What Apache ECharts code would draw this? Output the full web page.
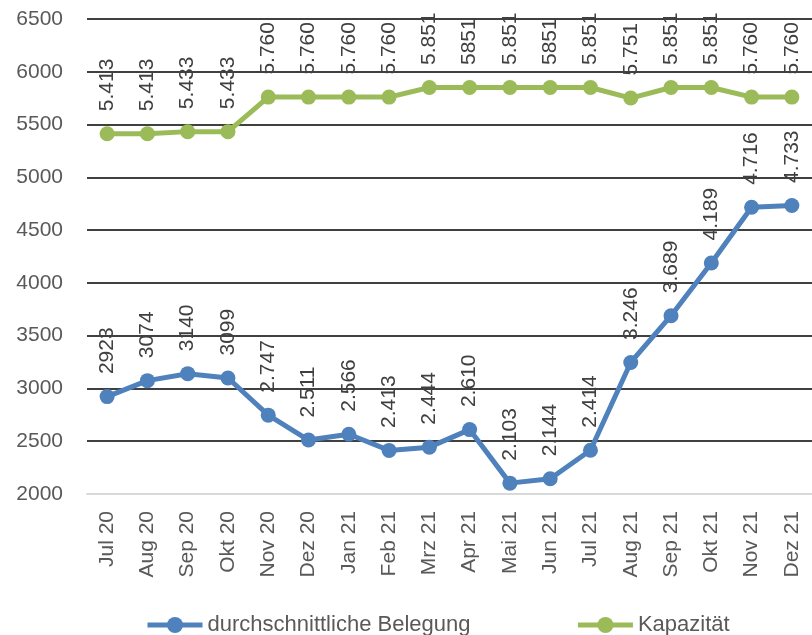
<!DOCTYPE html>
<html>
<head>
<meta charset="utf-8">
<script src="https://cdn.jsdelivr.net/npm/echarts@6/dist/echarts.min.js"></script>
<style>
html,body{margin:0;padding:0;background:#fff;}
#chart{width:812px;height:635px;}
</style>
</head>
<body>
<div id="chart"></div>
<script>
var categories = ['Jul 20','Aug 20','Sep 20','Okt 20','Nov 20','Dez 20','Jan 21','Feb 21','Mrz 21','Apr 21','Mai 21','Jun 21','Jul 21','Aug 21','Sep 21','Okt 21','Nov 21','Dez 21'];
var belegung = [2923,3074,3140,3099,2747,2511,2566,2413,2444,2610,2103,2144,2414,3246,3689,4189,4716,4733];
var belegungLabels = ['2923','3074','3140','3099','2.747','2.511','2.566','2.413','2.444','2.610','2.103','2.144','2.414','3.246','3.689','4.189','4.716','4.733'];
var kapazitaet = [5413,5413,5433,5433,5760,5760,5760,5760,5851,5851,5851,5851,5851,5751,5851,5851,5760,5760];
var kapazitaetLabels = ['5.413','5.413','5.433','5.433','5.760','5.760','5.760','5.760','5.851','5851','5.851','5851','5.851','5.751','5.851','5.851','5.760','5.760'];
var yMin = 2000, yMax = 6500, yStep = 500;

var FONT = '"Liberation Sans", Arial, sans-serif';
var chart = echarts.init(document.getElementById('chart'), null, {renderer:'canvas'});

function labelCfg(texts){
  return {
    show: true,
    position: 'top',
    distance: 15,
    rotate: 90,
    align: 'left',
    verticalAlign: 'middle',
    fontSize: 21,
    fontFamily: FONT,
    color: '#404040',
    formatter: function(p){ return texts[p.dataIndex]; }
  };
}

var gridColors = ['#d9d9d9'];
for (var v = yMin + yStep; v <= yMax; v += yStep) gridColors.push('#000000');

chart.setOption({
  animation: false,
  backgroundColor: '#ffffff',
  grid: {left: 87, right: -14, top: 19, bottom: 141, containLabel: false},
  xAxis: {
    type: 'category',
    data: categories,
    boundaryGap: true,
    axisLine: {show: true, lineStyle: {color: '#d9d9d9', width: 2}},
    axisTick: {show: false},
    axisLabel: {rotate: 90, margin: 17, fontSize: 21, fontFamily: FONT, color: '#595959', interval: 0}
  },
  yAxis: {
    type: 'value',
    min: yMin, max: yMax, interval: yStep,
    axisLine: {show: false},
    axisTick: {show: false},
    axisLabel: {margin: 24, fontSize: 21, fontFamily: FONT, color: '#595959', formatter: function(v){ return String(v); }},
    splitLine: {show: true, lineStyle: {color: gridColors, width: 1.5}}
  },
  legend: {
    left: 140, top: 609,
    itemWidth: 55, itemHeight: 20, itemGap: 105,
    lineStyle: {width: 5},
    textStyle: {fontSize: 22, fontFamily: FONT, color: '#595959'},
    data: ['durchschnittliche Belegung', 'Kapazität']
  },
  series: [
    {
      name: 'durchschnittliche Belegung',
      type: 'line',
      data: belegung,
      symbol: 'circle', symbolSize: 15,
      lineStyle: {color: '#4F81BD', width: 5},
      itemStyle: {color: '#4F81BD'},
      label: labelCfg(belegungLabels),
      z: 3
    },
    {
      name: 'Kapazität',
      type: 'line',
      data: kapazitaet,
      symbol: 'circle', symbolSize: 15,
      lineStyle: {color: '#9BBB59', width: 5},
      itemStyle: {color: '#9BBB59'},
      label: labelCfg(kapazitaetLabels),
      z: 3
    }
  ]
});
</script>
</body>
</html>
